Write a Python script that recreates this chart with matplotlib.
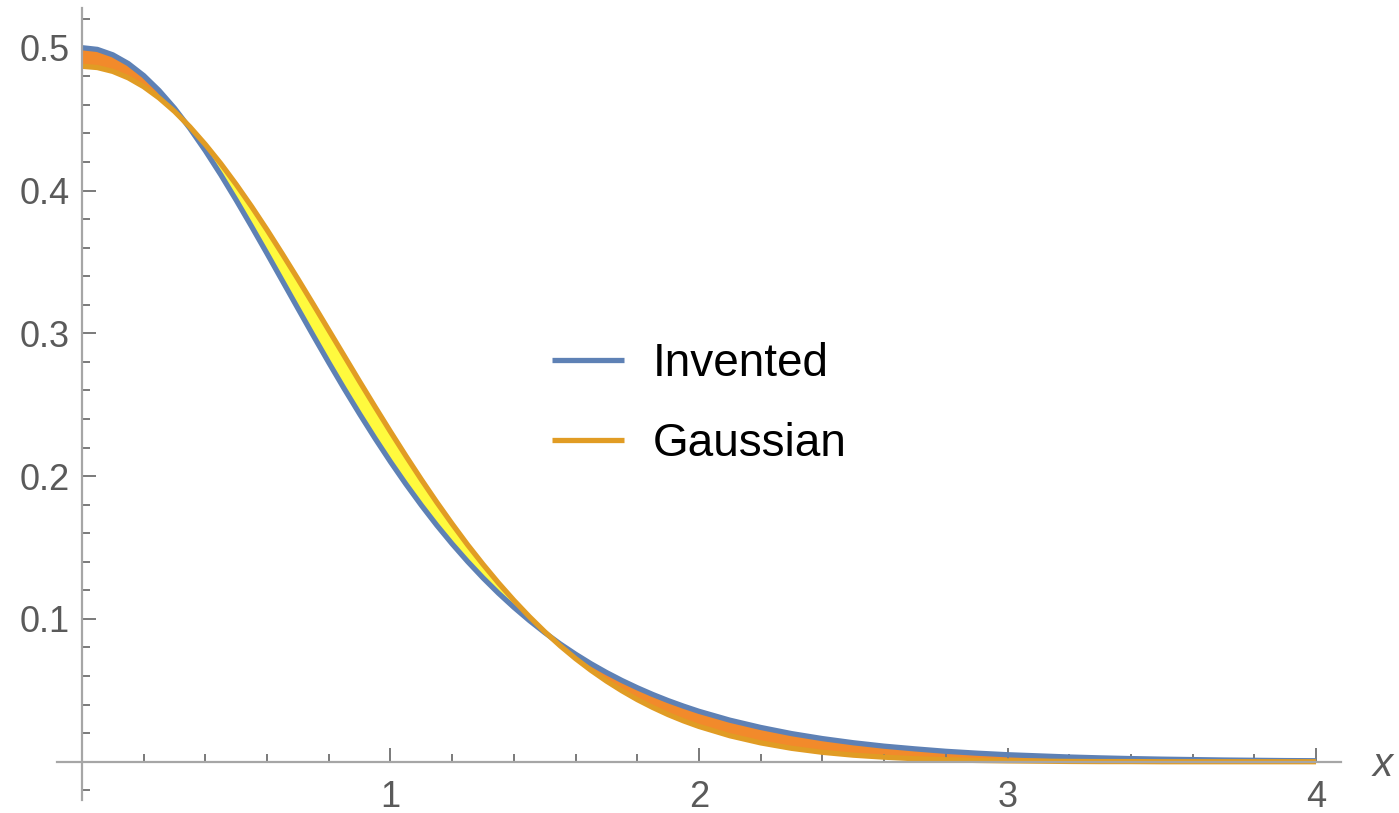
import matplotlib
matplotlib.use('Agg')
import matplotlib.pyplot as plt
from matplotlib.ticker import MultipleLocator
import numpy as np

plt.rcParams['font.family'] = ['Liberation Sans', 'DejaVu Sans']

# values: step 0.05 up to x=2, then 0.1
x = [0.00, 0.05, 0.10, 0.15, 0.20, 0.25, 0.30, 0.35, 0.40, 0.45,
     0.50, 0.55, 0.60, 0.65, 0.70, 0.75, 0.80, 0.85, 0.90, 0.95,
     1.00, 1.05, 1.10, 1.15, 1.20, 1.25, 1.30, 1.35, 1.40, 1.45,
     1.50, 1.55, 1.60, 1.65, 1.70, 1.75, 1.80, 1.85, 1.90, 1.95,
     2.0, 2.1, 2.2, 2.3, 2.4, 2.5, 2.6, 2.7, 2.8, 2.9,
     3.0, 3.1, 3.2, 3.3, 3.4, 3.5, 3.6, 3.7, 3.8, 3.9, 4.0]

invented = [0.5000, 0.4988, 0.4950, 0.4889, 0.4805, 0.4700, 0.4576, 0.4434, 0.4278, 0.4110,
            0.3932, 0.3747, 0.3558, 0.3366, 0.3174, 0.2983, 0.2795, 0.2612, 0.2435, 0.2264,
            0.2100, 0.1944, 0.1796, 0.1656, 0.1525, 0.1402, 0.1287, 0.1180, 0.1081, 0.0989,
            0.0904, 0.0825, 0.0753, 0.0686, 0.0625, 0.0569, 0.0518, 0.0471, 0.0428, 0.0389,
            0.0353, 0.0291, 0.0240, 0.0197, 0.0162, 0.0133, 0.0109, 0.0090, 0.0073, 0.0060,
            0.0049, 0.0041, 0.0033, 0.0027, 0.0022, 0.0018, 0.0015, 0.0012, 0.0010, 0.0008, 0.0007]

gaussian = [0.4870, 0.4861, 0.4834, 0.4789, 0.4727, 0.4648, 0.4554, 0.4445, 0.4322, 0.4188,
            0.4042, 0.3887, 0.3724, 0.3554, 0.3380, 0.3202, 0.3022, 0.2842, 0.2662, 0.2485,
            0.2311, 0.2141, 0.1976, 0.1817, 0.1665, 0.1519, 0.1382, 0.1252, 0.1130, 0.1016,
            0.0910, 0.0812, 0.0722, 0.0640, 0.0565, 0.0497, 0.0435, 0.0380, 0.0330, 0.0286,
            0.0247, 0.0182, 0.0132, 0.0094, 0.0066, 0.0046, 0.0032, 0.0021, 0.0014, 0.0009,
            0.0006, 0.0004, 0.0002, 0.0001, 0.0001, 0.0000, 0.0000, 0.0000, 0.0000, 0.0000, 0.0000]

labels = ['Invented', 'Gaussian']
x_ticks = [1, 2, 3, 4]
y_ticks = [0.1, 0.2, 0.3, 0.4, 0.5]

blue = '#5E81B5'
orange = '#E19C24'
fill_orange = '#F28A2B'
fill_yellow = '#FFFA3E'
axis_gray = '#a6a6a6'
tick_gray = '#7a7a7a'
text_gray = '#5a5a5a'

W, H = 1399, 813
fig = plt.figure(figsize=(W / 100, H / 100), dpi=100)
ax = fig.add_axes([57.3 / W, 13 / H, (1340.7 - 57.3) / W, (805 - 13) / H])

xa = np.array(x)
inv = np.array(invented)
gau = np.array(gaussian)

ax.fill_between(xa, inv, gau, where=inv >= gau, interpolate=True,
                color=fill_orange, linewidth=0)
ax.fill_between(xa, inv, gau, where=gau >= inv, interpolate=True,
                color=fill_yellow, linewidth=0)
ax.plot(xa, inv, color=blue, lw=3.8, label=labels[0],
        solid_capstyle='butt', solid_joinstyle='round')
ax.plot(xa, gau, color=orange, lw=3.8, label=labels[1],
        solid_capstyle='butt', solid_joinstyle='round')

ax.set_xlim(-0.08, 4.08)
ax.set_ylim(-0.0268, 0.5278)

for s in ['top', 'right']:
    ax.spines[s].set_visible(False)
for s in ['left', 'bottom']:
    ax.spines[s].set_position(('data', 0))
    ax.spines[s].set_color(axis_gray)
    ax.spines[s].set_linewidth(1.6)

ax.set_xticks(x_ticks)
ax.set_xticklabels([str(t) for t in x_ticks])
ax.set_yticks(y_ticks)
ax.set_yticklabels([f'{t:.1f}' for t in y_ticks])
ax.xaxis.set_minor_locator(MultipleLocator(0.2))
ax.yaxis.set_minor_locator(MultipleLocator(0.02))

ax.tick_params(which='both', direction='in', color=tick_gray, width=1.4)
ax.tick_params(which='major', length=10)
ax.tick_params(which='minor', length=5.5)
ax.tick_params(axis='x', which='major', pad=13, labelsize=26, labelcolor=text_gray)
ax.tick_params(axis='y', which='major', pad=9, labelsize=26, labelcolor=text_gray)

fig.text(1383 / W, 1 - 765 / H, 'x', fontsize=29, style='italic', color=text_gray,
         ha='center', va='center')

ax.legend(loc='center left', bbox_to_anchor=(552 / W, 1 - 404 / H),
          bbox_transform=fig.transFigure, frameon=False, fontsize=33,
          borderpad=0, borderaxespad=0, handlelength=1.58, handletextpad=0.62,
          labelspacing=0.8)

fig.savefig('out.png', dpi=100)
